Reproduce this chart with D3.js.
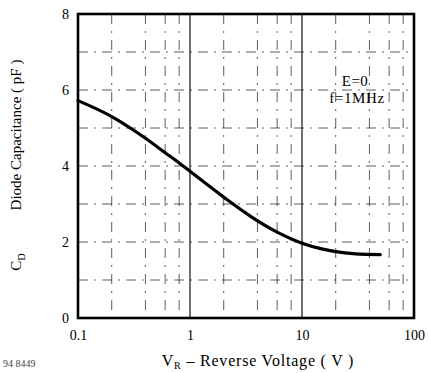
<!DOCTYPE html>
<html>
<head>
<meta charset="utf-8">
<script src="https://cdn.jsdelivr.net/npm/d3@7"></script>
<style>
  html, body { margin: 0; padding: 0; background: #fff; }
  svg { display: block; font-family: "Liberation Serif", "DejaVu Serif", serif; }
</style>
</head>
<body>
<svg id="chart" width="430" height="373"></svg>
<script>
// Diode capacitance vs reverse voltage (E = 0, f = 1 MHz)
const voltage     = [0.1, 0.2, 0.3, 0.4, 0.6, 0.8, 1, 2, 3.5, 6, 10, 15, 20, 30, 50];
const capacitance = [5.72, 5.30, 4.98, 4.73, 4.35, 4.08, 3.86, 3.18, 2.67, 2.26, 1.97, 1.82, 1.745, 1.69, 1.67];

const xTicks = [0.1, 1, 10, 100];
const xTickLabels = ["0.1", "1", "10", "100"];
const yTicks = [0, 2, 4, 6, 8];
const majorGrid = [1, 10];
const minorGrid = [0.2, 0.4, 0.6, 0.8, 2, 4, 6, 8, 20, 40, 60, 80];
const hGrid = [1, 2, 3, 4, 5, 6, 7];

const svg = d3.select("#chart");
const m = { left: 78, top: 14, right: 414, bottom: 318 };

const x = d3.scaleLog().domain([0.1, 100]).range([m.left, m.right]);
const y = d3.scaleLinear().domain([0, 8]).range([m.bottom, m.top]);

// dashed grid
const grid = svg.append("g").attr("stroke", "#333").attr("fill", "none");
grid.selectAll("line.h").data(hGrid).join("line")
  .attr("class", "h")
  .attr("x1", m.left).attr("x2", m.right)
  .attr("y1", d => y(d)).attr("y2", d => y(d))
  .attr("stroke-width", 0.8)
  .attr("stroke-dasharray", "10,6,2,6");
grid.selectAll("line.vm").data(minorGrid).join("line")
  .attr("class", "vm")
  .attr("x1", d => x(d)).attr("x2", d => x(d))
  .attr("y1", m.top).attr("y2", m.bottom)
  .attr("stroke-width", 0.8)
  .attr("stroke-dasharray", "10,7,2,7");
grid.selectAll("line.vM").data(majorGrid).join("line")
  .attr("class", "vM")
  .attr("x1", d => x(d)).attr("x2", d => x(d))
  .attr("y1", m.top).attr("y2", m.bottom)
  .attr("stroke", "#111")
  .attr("stroke-width", 1.2);

// frame
svg.append("rect")
  .attr("x", m.left).attr("y", m.top)
  .attr("width", m.right - m.left).attr("height", m.bottom - m.top)
  .attr("fill", "none").attr("stroke", "#000").attr("stroke-width", 2.6);

// curve
const pts = voltage.map((v, i) => [v, capacitance[i]]);
svg.append("path")
  .datum(pts)
  .attr("fill", "none")
  .attr("stroke", "#000")
  .attr("stroke-width", 3.2)
  .attr("stroke-linecap", "round")
  .attr("d", d3.line().x(d => x(d[0])).y(d => y(d[1])).curve(d3.curveMonotoneX));

// axes
const xAxis = d3.axisBottom(x).tickValues(xTicks)
  .tickFormat((d, i) => xTickLabels[i]).tickSize(0).tickPadding(12);
svg.append("g").attr("transform", `translate(0,${m.bottom})`).call(xAxis)
  .attr("font-family", "Liberation Serif").attr("font-size", 14)
  .call(g => g.select(".domain").remove())
  .selectAll("text").attr("fill", "#000");

const yAxis = d3.axisLeft(y).tickValues(yTicks).tickFormat(d3.format("d")).tickSize(0).tickPadding(9);
svg.append("g").attr("transform", `translate(${m.left},0)`).call(yAxis)
  .attr("font-family", "Liberation Serif").attr("font-size", 14)
  .call(g => g.select(".domain").remove())
  .selectAll("text").attr("fill", "#000");

// conditions
svg.append("text").attr("x", 355).attr("y", 86).attr("text-anchor", "middle")
  .attr("font-size", 15).attr("letter-spacing", 0.4).text("E=0");
svg.append("text").attr("x", 357).attr("y", 103).attr("text-anchor", "middle")
  .attr("font-size", 15).attr("letter-spacing", 0.6).text("f=1MHz");

// y title: symbol and description
const ys = svg.append("text")
  .attr("transform", "translate(21,262) rotate(-90)")
  .attr("text-anchor", "middle").attr("font-size", 15);
ys.append("tspan").text("C");
ys.append("tspan").attr("font-size", 10).attr("dy", 4).text("D");
svg.append("text")
  .attr("transform", "translate(21,135) rotate(-90)")
  .attr("text-anchor", "middle").attr("font-size", 15)
  .text("Diode Capacitance ( pF )");

// x title
const xt = svg.append("text")
  .attr("x", 258).attr("y", 366)
  .attr("text-anchor", "middle").attr("font-size", 16).attr("letter-spacing", 0.8);
xt.append("tspan").text("V");
xt.append("tspan").attr("font-size", 10).attr("dy", 3).text("R");
xt.append("tspan").attr("dy", -3).text(" \u2013 Reverse Voltage ( V )");

// drawing number
svg.append("text").attr("x", 3).attr("y", 367)
  .attr("font-size", 10).attr("fill", "#444").text("94 8449");
</script>
</body>
</html>
